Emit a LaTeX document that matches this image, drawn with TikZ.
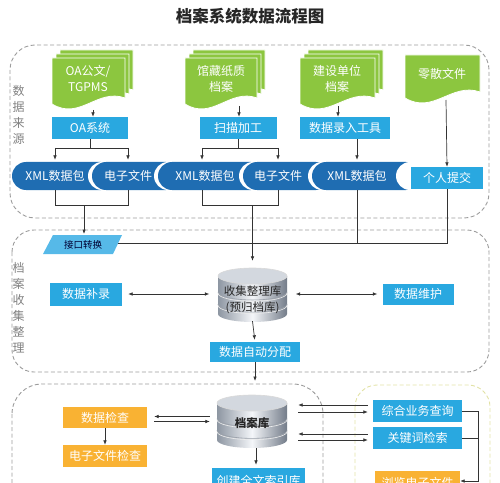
\documentclass[tikz,border=0pt]{standalone}
\usepackage{fontspec}
\newfontfamily\cjk{Noto Sans CJK SC}
\usetikzlibrary{arrows.meta,calc}
\definecolor{lblue}{HTML}{29A8E0}
\definecolor{pblue}{HTML}{1F6DB2}
\definecolor{dgreen}{HTML}{8CC63F}
\definecolor{orng}{HTML}{F9B233}
\definecolor{ifblue}{HTML}{56B9E8}
\definecolor{dashgray}{HTML}{9C9C9C}
\definecolor{ylw}{HTML}{E2E2A6}
\definecolor{lin}{HTML}{333333}
\definecolor{dbL}{HTML}{8D96A2}
\definecolor{dbM}{HTML}{F4F6F9}
\definecolor{dbR}{HTML}{737C89}
\definecolor{dbTop}{HTML}{D3D8DF}
\definecolor{dbLine}{HTML}{6E7784}
\newcommand\docpath[4]{(#1,#2) -- (#3,#2) -- (#3,{(#4)-6}) .. controls ({(#1)+0.62*((#3)-(#1))},{(#4)-16}) and ({(#1)+0.38*((#3)-(#1))},{(#4)+17}) .. (#1,#4) -- cycle}
\newcommand\stackdoc[4]{%
  \foreach \d in {8,4,0}{\filldraw[fill=dgreen, draw=white, line width=0.8bp] \docpath{#1+\d}{#2-\d}{#3+\d}{#4-\d};}}
\newcommand\silverdb[4]{% cx, ytop, ybottom, rx
  \path[left color=dbL, right color=dbR, middle color=dbM] ({#1-#4},{#2+8}) -- ({#1-#4},{#3-8}) arc[start angle=180,end angle=0,x radius=#4,y radius=8] -- ({#1+#4},{#2+8}) -- cycle;
  \draw[dbLine!70, line width=0.6bp] ({#1-#4},{#2+8+0.42*(#3-#2-16)}) arc[start angle=180,end angle=0,x radius=#4,y radius=8];
  \draw[white!85!gray, line width=0.6bp] ({#1-#4},{#2+9.3+0.42*(#3-#2-16)}) arc[start angle=180,end angle=0,x radius=#4,y radius=8];
  \draw[dbLine!70, line width=0.6bp] ({#1-#4},{#2+8+0.74*(#3-#2-16)}) arc[start angle=180,end angle=0,x radius=#4,y radius=8];
  \draw[white!85!gray, line width=0.6bp] ({#1-#4},{#2+9.3+0.74*(#3-#2-16)}) arc[start angle=180,end angle=0,x radius=#4,y radius=8];
  \filldraw[fill=dbTop, draw=white!70!gray, line width=0.6bp] (#1,{#2+8}) ellipse[x radius=#4, y radius=8];
}
\tikzset{
  every node/.style={font=\cjk\fontsize{12bp}{14bp}\selectfont},
  bbox/.style={fill=lblue, text=white, inner sep=0, minimum height=22bp},
  obox/.style={fill=orng, text=white, inner sep=0, minimum height=22bp},
  ptext/.style={text=white, inner sep=0, minimum height=28bp},
  dtext/.style={text=white, align=center, inner sep=0, font=\cjk\fontsize{12bp}{16bp}\selectfont},
  dbtext/.style={text=black!85, align=center, inner sep=0, font=\cjk\fontsize{11.5bp}{16bp}\selectfont},
  dbnode/.style={inner sep=0, minimum width=70bp, minimum height=54bp},
  arr/.style={draw=lin, line width=0.7bp, -{Latex[length=4.5bp,width=3.6bp]}},
  darr/.style={draw=lin, line width=0.7bp, {Latex[length=4.5bp,width=3.6bp]}-{Latex[length=4.5bp,width=3.6bp]}},
  ln/.style={draw=lin, line width=0.7bp},
  zone/.style={draw=dashgray, dash pattern=on 4bp off 2.5bp, line width=0.9bp},
  vlabel/.style={text=black!50, align=center, inner sep=0, font=\cjk\fontsize{12bp}{16bp}\selectfont},
}
\begin{document}
\begin{tikzpicture}[x=1bp,y=-1bp]
\useasboundingbox (0,0) rectangle (500,483);
% title
\node[font=\cjk\bfseries\fontsize{16.5bp}{18bp}\selectfont, text=black!85] (title) at (250,16) {档案系统数据流程图};
% zones
\draw[zone, rounded corners=25bp] (10,45) rectangle (489,218);
\draw[zone, rounded corners=22bp] (12,230) rectangle (489,372);
\draw[zone, rounded corners=30bp] (12,384) rectangle (323,540);
\draw[zone, draw=ylw, rounded corners=22bp] (355,385) rectangle (490,540);
\node[vlabel] (lab1) at (18.5,114.5) {数\\据\\来\\源};
\node[vlabel] (lab2) at (18.5,307.5) {档\\案\\收\\集\\整\\理};
% documents
\stackdoc{52}{58}{125}{104}
\stackdoc{185}{58}{257}{104}
\stackdoc{300}{58}{375}{104}
\filldraw[fill=dgreen, draw=white, line width=0.8bp] \docpath{405}{55}{480}{98};
\node[dtext] (d1) at (88,78) {OA公文/\\TGPMS};
\node[dtext] (d2) at (221,79) {馆藏纸质\\档案};
\node[dtext] (d3) at (337,79) {建设单位\\档案};
\node[dtext] (d4) at (442,74) {零散文件};
\coordinate (d1b) at (93,110);
\coordinate (d2b) at (239,106);
\coordinate (d3b) at (338,106);
\coordinate (d4b) at (446,100);
% pills
\fill[pblue, rounded corners=14bp] (12,162) rectangle (115,190);
\fill[white, rounded corners=14bp] (88,162) rectangle (180,190);
\fill[pblue, rounded corners=14bp] (92,162) rectangle (180,190);
\fill[white, rounded corners=14bp] (154,162) rectangle (265,190);
\fill[pblue, rounded corners=14bp] (158,162) rectangle (265,190);
\fill[white, rounded corners=14bp] (239,162) rectangle (330,190);
\fill[pblue, rounded corners=14bp] (243,162) rectangle (330,190);
\fill[white, rounded corners=14bp] (308,162) rectangle (420,190);
\fill[pblue, rounded corners=14bp] (312,162) rectangle (420,190);
\fill[white, rounded corners=14bp] (396,162) rectangle (450,190);
\node[ptext] (xml1) at (55,176) {XML数据包};
\node[ptext] (dz1) at (128,176) {电子文件};
\node[ptext] (xml2) at (205,176) {XML数据包};
\node[ptext] (dz2) at (278,176) {电子文件};
\node[ptext] (xml3) at (357,176) {XML数据包};
% blue boxes row 1
\node[bbox, minimum width=76bp] (oa) at (90,128) {OA系统};
\node[bbox, minimum width=77bp] (scan) at (238,128) {扫描加工};
\node[bbox, minimum width=90bp] (entry) at (345,128) {数据录入工具};
\node[bbox, minimum width=72bp] (personal) at (447,178) {个人提交};
% interface parallelogram
\fill[ifblue] (53,235) -- (122,235) -- (113,254) -- (43,254) -- cycle;
\node[text=black!80!blue, inner sep=0, font=\cjk\fontsize{9.5bp}{11bp}\selectfont] (iface) at (83,244.5) {接口转换};
\coordinate (ifaceT) at (84,234);
\coordinate (ifaceR) at (118,243);
% section 2
\node[bbox, minimum width=72bp, minimum height=23bp] (fill) at (86,294) {数据补录};
\node[bbox, minimum width=71bp, minimum height=21bp] (maint) at (418,294) {数据维护};
\silverdb{252.5}{268}{322}{34.5}
\node[dbnode] (db1) at (252.5,294) {};
\node[dbtext] (db1t) at (252.5,300) {收集整理库\\(预归档库)};
\node[bbox, minimum width=90bp, minimum height=20bp] (auto) at (255,352) {数据自动分配};
\coordinate (autoE) at (255,381);
% section 3
\silverdb{252}{395}{448}{35}
\node[dbnode, minimum height=53bp] (db2) at (252,421.5) {};
\node[dbtext, font=\cjk\bfseries\fontsize{11.5bp}{14bp}\selectfont] (db2t) at (252,423) {档案库};
\node[obox, minimum width=84bp, minimum height=21bp] (check) at (105,417.5) {数据检查};
\node[obox, minimum width=84bp] (echeck) at (105,456) {电子文件检查};
\node[bbox, minimum width=93bp, minimum height=26bp] (idx) at (258.5,481) {创建全文索引库};
\node[bbox, minimum width=89bp] (query) at (417.5,411) {综合业务查询};
\node[bbox, minimum width=89bp] (kw) at (417.5,438) {关键词检索};
\node[obox, minimum width=85bp, minimum height=24bp] (browse) at (417.5,483) {浏览电子文件};
% connectors: docs to boxes
\draw[arr] (d1b) -- (d1b |- oa.north);
\draw[arr] (d2b) -- (d2b |- scan.north);
\draw[arr] (d3b) -- (d3b |- entry.north);
\draw[arr] (d4b) -- (personal.north);
% trees to pills
\coordinate (row1) at (0,148);
\draw[ln] (oa.south) -- (oa.south |- row1);
\draw[ln] (xml1.north |- row1) -- (dz1.north |- row1);
\draw[arr] (xml1.north |- row1) -- ([yshift=2bp]xml1.north);
\draw[arr] (dz1.north |- row1) -- ([yshift=2bp]dz1.north);
\draw[ln] (scan.south) -- (scan.south |- row1);
\draw[ln] ([xshift=-3bp]xml2.north |- row1) -- (dz2.north |- row1);
\draw[arr] ([xshift=-3bp]xml2.north |- row1) -- ([xshift=-3bp,yshift=2bp]xml2.north);
\draw[arr] (dz2.north |- row1) -- ([yshift=2bp]dz2.north);
\draw[arr] (xml3.north |- entry.south) -- ([yshift=2bp]xml3.north);
% brackets below pills
\coordinate (row2) at (0,205);
\draw[ln] (xml1.south) -- (xml1.south |- row2) -- (dz1.south |- row2) -- (dz1.south);
\draw[arr] (ifaceT |- row2) -- (ifaceT);
\draw[ln] ([xshift=-3bp]xml2.south) -- ([xshift=-3bp]xml2.south |- row2) -- (dz2.south |- row2) -- (dz2.south);
\draw[arr, shorten >=6bp] (db1.north |- row2) -- (db1.north);
\draw[ln] (ifaceR) -- (ifaceR -| personal.south) -- (personal.south);
\draw[ln] (xml3.south) -- (xml3.south |- ifaceR);
% section 2 connectors
\draw[darr, shorten <=6bp, shorten >=8bp] (fill.east) -- (db1.west);
\draw[darr, shorten <=8bp, shorten >=5bp] (db1.east) -- (maint.west);
\draw[arr, shorten >=2bp] (db1.south) -- (auto.north);
\draw[arr] (auto.south) -- (autoE);
% section 3 connectors
\draw[arr] (check.south) -- (echeck.north);
\draw[arr] ($(db2.west |- check.east)+(-7,-1)$) -- ($(check.east)+(7,-1)$);
\draw[arr] ($(check.east)+(7,4)$) -- ($(db2.west |- check.east)+(-7,4)$);
\draw[arr] ([xshift=4bp]db2.south) -- ([xshift=4bp,yshift=3bp]db2.south |- idx.north);
\draw[arr] ($(query.west)+(-5,-6)$) -- ($(db2.east |- query.west)+(11,-6)$);
\draw[arr] ($(db2.east |- query.west)+(11,1)$) -- ($(query.west)+(-5,1)$);
\draw[arr] ($(kw.west)+(-5,-4)$) -- ($(db2.east |- kw.west)+(11,-4)$);
\draw[arr] ($(db2.east |- kw.west)+(11,2)$) -- ($(kw.west)+(-5,2)$);
\draw[ln] (query.east) -- ++(16,0) coordinate (qr);
\draw[ln] (kw.east) -- (kw.east -| qr);
\draw[arr] (qr) |- ([yshift=2bp]browse.east);
\end{tikzpicture}
\end{document}
